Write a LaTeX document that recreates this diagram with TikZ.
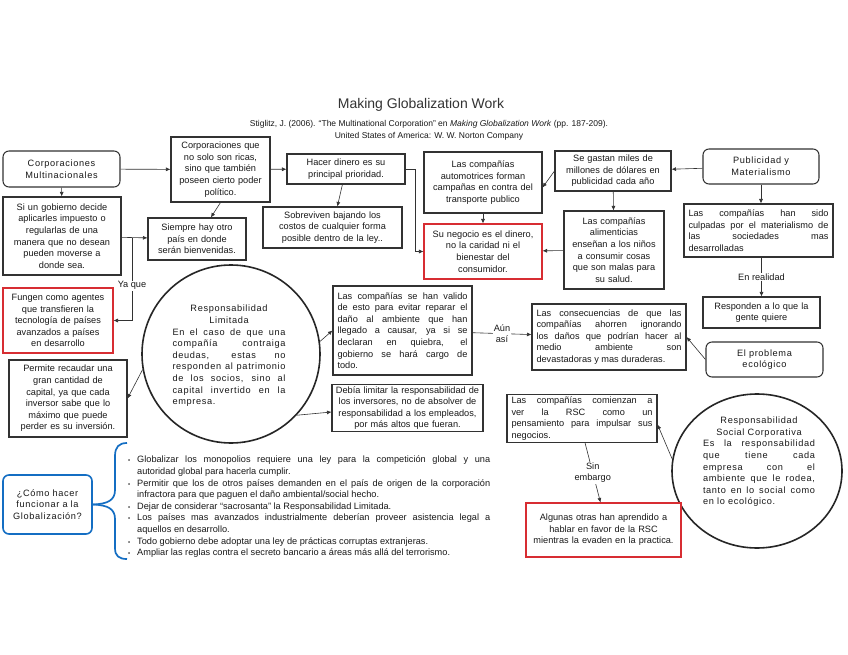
\documentclass[tikz,border=0pt]{standalone}
\usepackage{fontspec}
\setmainfont{Liberation Sans}
\newfontfamily\spaced[LetterSpace=7]{Liberation Sans}
\usepackage{tikz}
\usetikzlibrary{arrows.meta, positioning, shapes.geometric}
\usepackage{xcolor}

\definecolor{linegray}{RGB}{50,50,50}
\definecolor{boxred}{RGB}{215,45,50}
\definecolor{boxblue}{RGB}{20,110,195}

\tikzset{
    base/.style={font=\fontsize{9.2}{11.6}\selectfont, text=black!90},
    box/.style={base, draw=linegray, line width=1.05pt, fill=white, align=center, inner sep=2pt},
    jbox/.style={box, align=justify, inner xsep=4pt},
    redbox/.style={box, draw=boxred},
    roundbox/.style={box, rounded corners=6pt},
    bluebox/.style={roundbox, draw=boxblue, line width=1.6pt},
    bigcircle/.style={draw=black!85, line width=1.6pt},
    link/.style={draw=linegray, line width=0.6pt, -{Latex[length=4.5pt, width=4pt]}},
    linktext/.style={base, fill=white, align=center, inner sep=1pt},
    brace/.style={draw=boxblue, line width=1.7pt}
}

\begin{document}
\begin{tikzpicture}[x=1pt, y=-1pt]
    \useasboundingbox[fill=white] (0,0) rectangle (848,655);

    % Title
    \node[font=\fontsize{14}{16}\selectfont, text=black!80] (titulo) at (421,105) {Making Globalization Work};
    \node[base, font=\fontsize{8.5}{11.8}\selectfont, align=center] (fuente) at (429,130)
        {Stiglitz, J. (2006). “The Multinational Corporation” en \textit{Making Globalization Work} (pp. 187-209).\\
         United States of America: W. W. Norton Company};

    % Left branch
    \node[roundbox, minimum width=117pt, minimum height=36pt, text width=110pt] (corpmulti) at (61.5,169)
        {\spaced Corporaciones\\Multinacionales};
    \node[box, minimum width=99pt, minimum height=65pt, text width=94pt] (corpricas) at (220.5,169.5)
        {Corporaciones que\\no solo son ricas,\\sino que también\\poseen cierto poder\\político.};
    \node[box, minimum width=118pt, minimum height=30pt, text width=112pt] (dinero) at (346,169)
        {Hacer dinero es su\\principal prioridad.};
    \node[box, minimum width=118pt, minimum height=78pt, text width=112pt] (gobierno) at (62,236)
        {Si un gobierno decide\\aplicarles impuesto o\\regularlas de una\\manera que no desean\\pueden moverse a\\donde sea.};
    \node[box, minimum width=98pt, minimum height=42pt, text width=92pt] (siempre) at (197,239)
        {Siempre hay otro\\país en donde\\serán bienvenidas.};
    \node[box, minimum width=139pt, minimum height=41pt, text width=133pt] (sobreviven) at (332.5,227.5)
        {Sobreviven bajando los\\costos de cualquier forma\\posible dentro de la ley..};
    \node[redbox, minimum width=110pt, minimum height=65pt, text width=104pt] (fungen) at (58,320.5)
        {Fungen como agentes\\que transfieren la\\tecnología de países\\avanzados a países\\en desarrollo};
    \node[box, minimum width=118pt, minimum height=77pt, text width=112pt] (permite) at (68,398.5)
        {Permite recaudar una\\gran cantidad de\\capital, ya que cada\\inversor sabe que lo\\máximo que puede\\perder es su inversión.};

    % Publicity branch
    \node[box, minimum width=118pt, minimum height=61pt, text width=112pt] (automotrices) at (483,182.5)
        {Las compañías\\automotrices forman\\campañas en contra del\\transporte publico};
    \node[box, minimum width=116pt, minimum height=40pt, text width=110pt] (gastan) at (613,171)
        {Se gastan miles de\\millones de dólares en\\publicidad cada año};
    \node[roundbox, minimum width=116pt, minimum height=35pt, text width=110pt] (publicidad) at (761,166.5)
        {\spaced Publicidad y\\Materialismo};
    \node[redbox, minimum width=118pt, minimum height=55pt, text width=112pt] (negocio) at (483,251.5)
        {Su negocio es el dinero,\\no la caridad ni el\\bienestar del\\consumidor.};
    \node[box, minimum width=100pt, minimum height=78pt, text width=94pt] (alimenticias) at (614,250)
        {Las compañías\\alimenticias\\enseñan a los niños\\a consumir cosas\\que son malas para\\su salud.};
    \node[jbox, minimum width=149pt, minimum height=53pt, text width=140pt] (culpadas) at (758.5,230.5)
        {Las compañías han sido \linebreak culpadas por el materialismo de \linebreak las sociedades mas \linebreak desarrolladas};
    \node[box, minimum width=117pt, minimum height=31pt, text width=110pt] (responden) at (761.5,312.5)
        {Responden a lo que la\\gente quiere};
    \node[roundbox, minimum width=117pt, minimum height=35pt, text width=110pt] (ecologico) at (764.5,359.5)
        {\spaced El problema\\ecológico};
    \node[jbox, minimum width=154pt, minimum height=66pt, text width=145pt] (consecuencias) at (609,337)
        {Las consecuencias de que las \linebreak compañías ahorren ignorando \linebreak los daños que podrían hacer al \linebreak medio ambiente son \linebreak devastadoras y mas duraderas.};

    % Limited liability
    \node[bigcircle, circle, minimum size=178pt] (rl) at (231,354) {};
    \node[base, text width=113pt, align=justify] (rltext) at (229,356)
        {{\centering\spaced Responsabilidad\\Limitada\par}\spaced En el caso de que una \linebreak compañía contraiga \linebreak deudas, estas no \linebreak responden al patrimonio \linebreak de los socios, sino al \linebreak capital invertido en la \linebreak empresa.};
    \node[jbox, minimum width=139pt, minimum height=89pt, text width=130pt] (valido) at (402.5,330.5)
        {Las compañías se han valido \linebreak de esto para evitar reparar el \linebreak daño al ambiente que han \linebreak llegado a causar, ya si se \linebreak declaran en quiebra, el \linebreak gobierno se hará cargo de \linebreak todo.};
    \node[box, minimum width=151pt, minimum height=44pt, text width=145pt] (debia) at (407.5,408)
        {Debía limitar la responsabilidad de\\los inversores, no de absolver de\\responsabilidad a los empleados,\\por más altos que fueran.};

    % CSR
    \node[bigcircle, ellipse, minimum width=170pt, minimum height=154pt] (rsc) at (757,471) {};
    \node[base, text width=112pt, align=justify] (rsctext) at (759,462)
        {{\centering\spaced Responsabilidad\\Social Corporativa\par}\spaced Es la responsabilidad \linebreak que tiene cada \linebreak empresa con el \linebreak ambiente que le rodea, \linebreak tanto en lo social como \linebreak en lo ecológico.};
    \node[jbox, minimum width=150pt, minimum height=47pt, text width=141pt] (comienzan) at (582,418.5)
        {Las compañías comienzan a \linebreak ver la RSC como un \linebreak pensamiento para impulsar sus \linebreak negocios.};
    \node[redbox, minimum width=155pt, minimum height=54pt, text width=149pt] (algunas) at (603.5,530)
        {Algunas otras han aprendido a\\hablar en favor de la RSC\\mientras la evaden en la practica.};

    % How to make it work
    \node[bluebox, minimum width=89pt, minimum height=59pt, text width=82pt] (como) at (47.5,504.5)
        {\spaced ¿Cómo hacer\\funcionar a la\\Globalización?};
    \draw[brace] (como.east) .. controls (108,504) and (115,500) .. (115,490) -- (115,456)
        .. controls (115,447) and (119,443) .. (127,443);
    \draw[brace] (como.east) .. controls (108,505) and (115,509) .. (115,519) -- (115,548)
        .. controls (115,556) and (119,559) .. (127,559);
    \node[base, text width=368pt, inner sep=0pt, anchor=north west, align=justify] (lista) at (122,451) {%
        \begin{list}{{\fontsize{6}{6}\selectfont\textbullet}}{\setlength{\leftmargin}{15pt}\setlength{\labelsep}{7pt}%
            \setlength{\labelwidth}{8pt}\setlength{\itemsep}{0pt}\setlength{\parsep}{0pt}%
            \setlength{\topsep}{0pt}\setlength{\partopsep}{0pt}}
        \item Globalizar los monopolios requiere una ley para la competición global y una \linebreak autoridad global para hacerla cumplir.
        \item Permitir que los de otros países demanden en el país de origen de la corporación \linebreak infractora para que paguen el daño ambiental/social hecho.
        \item Dejar de considerar “sacrosanta” la Responsabilidad Limitada.
        \item Los países mas avanzados industrialmente deberían proveer asistencia legal a \linebreak aquellos en desarrollo.
        \item Todo gobierno debe adoptar una ley de prácticas corruptas extranjeras.
        \item Ampliar las reglas contra el secreto bancario a áreas más allá del terrorismo.
        \end{list}};

    % Connectors
    \draw[link] (corpmulti) -- (corpricas);
    \draw[link] (corpricas) -- (dinero);
    \draw[link] (corpmulti) -- (gobierno);
    \draw[link] (corpricas.south) -- (siempre);
    \draw[link] (gobierno) -- (siempre);
    \coordinate (yaque) at (132,237.5);
    \draw[link] (yaque) -- node[linktext, pos=0.58] {Ya que} (yaque |- fungen) -- (fungen);
    \draw[link] (dinero) -- (sobreviven);
    \draw[link] (dinero.east) -- ++(10,0) |- (negocio);
    \draw[link] (automotrices) -- (negocio);
    \draw[link] (gastan.west) -- ([yshift=-5pt]automotrices.east);
    \draw[link] (gastan) -- (alimenticias);
    \draw[link] (publicidad) -- (gastan);
    \draw[link] (publicidad.south) -- (publicidad.south |- culpadas.north);
    \draw[link] (alimenticias) -- (negocio);
    \draw[link] (responden.north |- culpadas.south) -- node[linktext] {En realidad} (responden.north);
    \draw[link] (ecologico.west) -- (consecuencias.east);
    \draw[link] (valido) -- node[linktext] {Aún\\así} (consecuencias);
    \draw[link] (rl.8) -- (valido.west);
    \draw[link] (rl.-43) -- ([yshift=-4pt]debia.west);
    \draw[link] (rl.190) -- (permite.east);
    \draw[link] (rsc.172) -- ([yshift=-6pt]comienzan.east);
    \draw[link] ([xshift=3pt]comienzan.south) -- node[linktext] {Sin\\embargo} ([xshift=-3pt]algunas.north);
\end{tikzpicture}
\end{document}
